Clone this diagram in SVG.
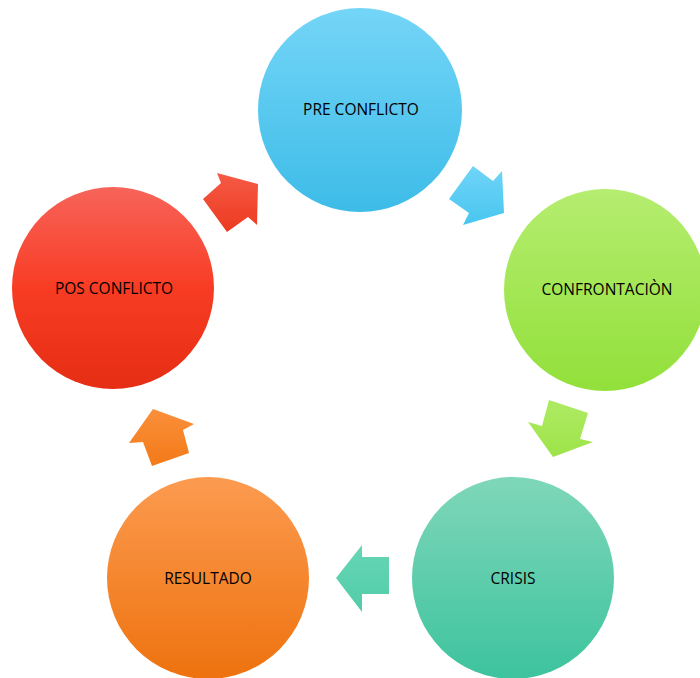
<svg xmlns="http://www.w3.org/2000/svg" width="700" height="678" viewBox="0 0 700 678">
<defs>
<linearGradient id="gBlue" x1="0" y1="0" x2="0" y2="1"><stop offset="0" stop-color="#74d5f7"/><stop offset="1" stop-color="#3dbce8"/></linearGradient>
<linearGradient id="gGreen" x1="0" y1="0" x2="0" y2="1"><stop offset="0" stop-color="#b5ed70"/><stop offset="1" stop-color="#92e03a"/></linearGradient>
<linearGradient id="gTeal" x1="0" y1="0" x2="0" y2="1"><stop offset="0" stop-color="#7fd7b9"/><stop offset="1" stop-color="#3dc39e"/></linearGradient>
<linearGradient id="gOrange" x1="0" y1="0" x2="0" y2="1"><stop offset="0" stop-color="#fc9b50"/><stop offset="1" stop-color="#ee720e"/></linearGradient>
<linearGradient id="gRed" x1="0" y1="0" x2="0" y2="1"><stop offset="0" stop-color="#f7645a"/><stop offset="0.5" stop-color="#f83c24"/><stop offset="1" stop-color="#e52e14"/></linearGradient>
<linearGradient id="aBlue" x1="0" y1="0" x2="0" y2="1"><stop offset="0" stop-color="#70d4f8"/><stop offset="1" stop-color="#48c6ef"/></linearGradient>
<linearGradient id="aGreen" x1="0" y1="0" x2="0" y2="1"><stop offset="0" stop-color="#aeea64"/><stop offset="1" stop-color="#9ee448"/></linearGradient>
<linearGradient id="aTeal" x1="0" y1="0" x2="0" y2="1"><stop offset="0" stop-color="#66d6b6"/><stop offset="1" stop-color="#52cca8"/></linearGradient>
<linearGradient id="aOrange" x1="0" y1="0" x2="0" y2="1"><stop offset="0" stop-color="#fb8f3a"/><stop offset="1" stop-color="#f27a18"/></linearGradient>
<linearGradient id="aRed" x1="0" y1="0" x2="0" y2="1"><stop offset="0" stop-color="#f65a46"/><stop offset="1" stop-color="#ec3a20"/></linearGradient>
</defs>
<style>
text{font-family:"Open Sans","Liberation Sans",sans-serif;font-size:15.5px;fill:#000;text-anchor:middle;dominant-baseline:central}
</style>
<rect width="700" height="678" fill="#ffffff"/>
<g id="connectors">
<polygon points="449,199 473,166 493,181 502,171 504,213 463,225 469,213" fill="url(#aBlue)"/>
<polygon points="549,400 588,413 580,439 593,442 553,457 528,422 542,426" fill="url(#aGreen)"/>
<polygon points="336,578 362,545 362,557 389,557 389,594 362,594 362,612" fill="url(#aTeal)"/>
<polygon points="153,409 194,424 183,430 189,453 152,466 143,442 129,443" fill="url(#aOrange)"/>
<polygon points="203,199 221,183 217,173 258,184 257,225 248,217 227,232" fill="url(#aRed)"/>
</g>
<g id="pre">
<circle cx="360" cy="110" r="102" fill="url(#gBlue)"/>
<text x="361" y="109">PRE CONFLICTO</text>
</g>
<g id="confrontacion">
<circle cx="605" cy="290" r="101" fill="url(#gGreen)"/>
<text x="607" y="289">CONFRONTACIÒN</text>
</g>
<g id="crisis">
<circle cx="513" cy="578" r="101" fill="url(#gTeal)"/>
<text x="513" y="578">CRISIS</text>
</g>
<g id="resultado">
<circle cx="208" cy="578" r="101" fill="url(#gOrange)"/>
<text x="208" y="578">RESULTADO</text>
</g>
<g id="pos">
<circle cx="113" cy="288" r="101" fill="url(#gRed)"/>
<text x="114" y="288">POS CONFLICTO</text>
</g>
</svg>
